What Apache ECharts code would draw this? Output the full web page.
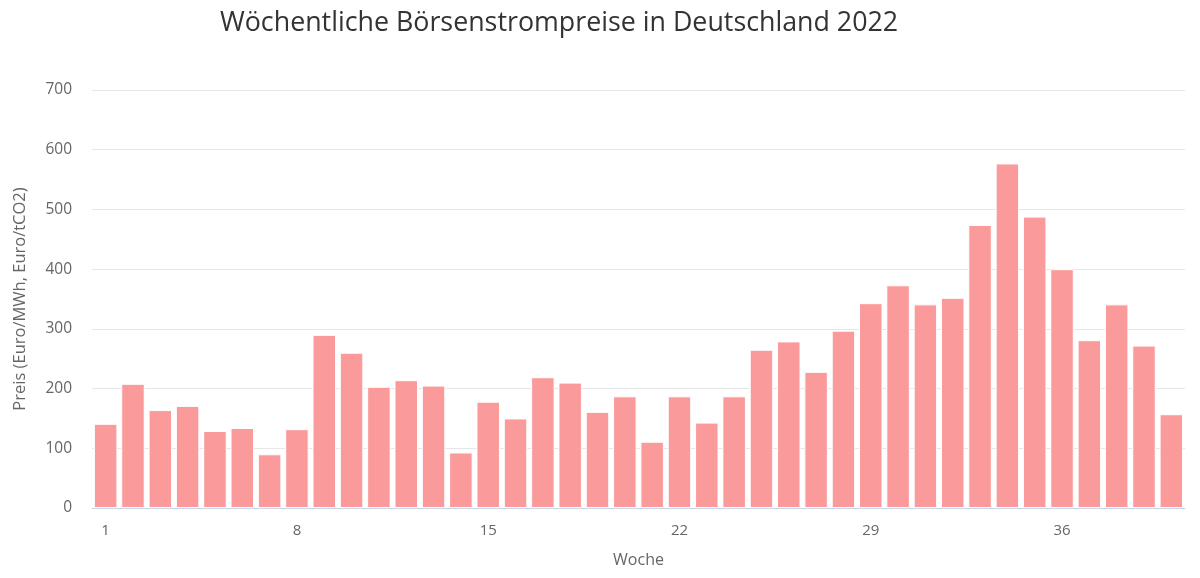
<!DOCTYPE html>
<html>
<head>
<meta charset="UTF-8">
<title>Wöchentliche Börsenstrompreise</title>
<script src="https://cdn.jsdelivr.net/npm/echarts@6/dist/echarts.min.js"></script>
<style>
  html, body { margin: 0; padding: 0; background: #fff; }
  #chart { width: 1200px; height: 578px; }
</style>
</head>
<body>
<div id="chart"></div>
<script type="text/javascript">
// Kalenderwochen 1..40
var weeks = [];
for (var i = 1; i <= 40; i++) {
  weeks.push(String(i));
}

// Preise je Woche
var prices = [
  141, 208, 164, 171, 129, 134, 90, 132, 290, 260,
  203, 214, 205, 93, 178, 150, 219, 210, 161, 187,
  111, 187, 143, 187, 265, 279, 228, 297, 343, 373,
  341, 352, 474, 577, 488, 400, 281, 341, 272, 157
];

var yTicks = { min: 0, max: 700, interval: 100 };

var chart = echarts.init(document.getElementById('chart'));
chart.setOption({
  animation: false,
  title: {
    text: 'Wöchentliche Börsenstrompreise in Deutschland 2022',
    left: 215,
    top: 5,
    textStyle: {
      fontFamily: 'Open Sans',
      fontWeight: 'normal',
      fontSize: 26.8,
      color: '#333333'
    }
  },
  tooltip: { show: false },
  grid: {
    left: 92,
    right: 15,
    top: 90,
    bottom: 70
  },
  xAxis: {
    type: 'category',
    data: weeks,
    name: 'Woche',
    nameLocation: 'middle',
    nameGap: 44,
    nameTextStyle: { fontFamily: 'Open Sans', fontSize: 16, color: '#666666' },
    axisLine: { lineStyle: { color: '#ccd6eb', width: 1 } },
    axisTick: { show: false },
    axisLabel: {
      interval: 6,
      margin: 15,
      fontFamily: 'Open Sans',
      fontSize: 15,
      color: '#666666'
    }
  },
  yAxis: {
    type: 'value',
    min: yTicks.min,
    max: yTicks.max,
    interval: yTicks.interval,
    name: 'Preis (Euro/MWh, Euro/tCO2)',
    nameLocation: 'middle',
    nameGap: 63,
    nameTextStyle: { fontFamily: 'Open Sans', fontSize: 16.5, color: '#666666' },
    axisLine: { show: false },
    axisTick: { show: false },
    axisLabel: {
      margin: 20,
      fontFamily: 'Open Sans',
      fontSize: 15.5,
      color: '#666666'
    },
    splitLine: { lineStyle: { color: '#e6e6e6', width: 1 } }
  },
  series: [{
    type: 'bar',
    data: prices,
    barCategoryGap: '14%',
    itemStyle: {
      color: '#fa9a9a',
      borderColor: '#ffffff',
      borderWidth: 1
    }
  }]
});
</script>
</body>
</html>
